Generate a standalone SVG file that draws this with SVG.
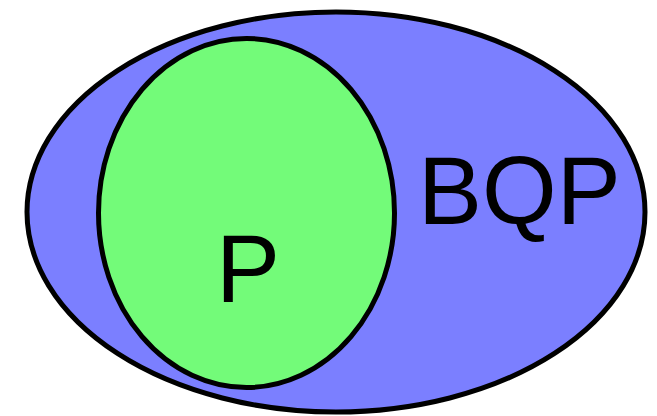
<svg xmlns="http://www.w3.org/2000/svg" width="657" height="416" viewBox="0 0 657 416">
<style>
.set{stroke:#000;stroke-width:5}
.lbl{font-family:"Liberation Sans",Arial,sans-serif;font-size:96px;fill:#000}
</style>
<rect width="657" height="416" fill="#fff"/>
<g id="BQP">
<ellipse class="set" cx="336" cy="212" rx="309" ry="200" fill="#7b7fff"/>
<text class="lbl" x="418" y="224">BQP</text>
</g>
<g id="P">
<ellipse class="set" cx="246.5" cy="213" rx="148" ry="174.5" fill="#73fb79"/>
<text class="lbl" x="216" y="302">P</text>
</g>
<g id="connectors"/>
</svg>
